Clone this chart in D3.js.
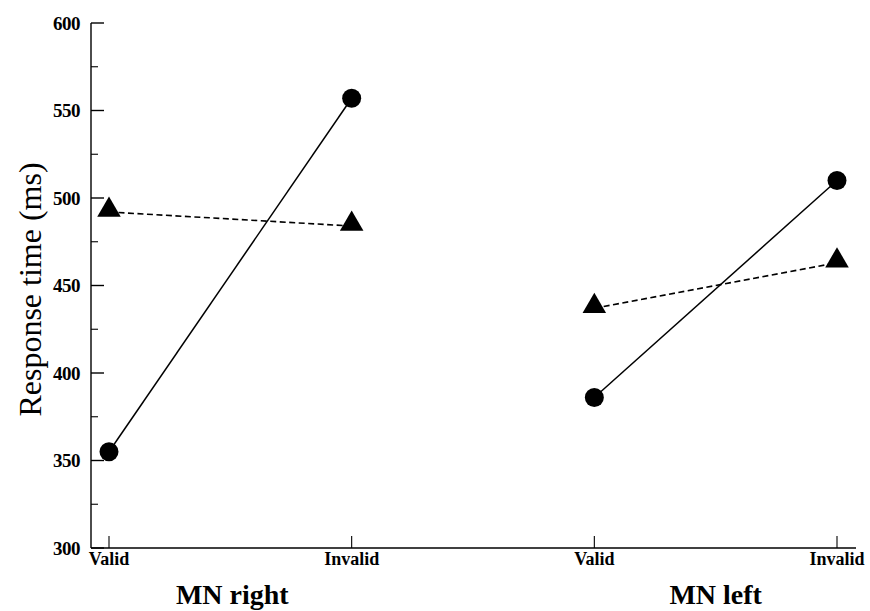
<!DOCTYPE html>
<html>
<head>
<meta charset="utf-8">
<script src="https://cdn.jsdelivr.net/npm/d3@7"></script>
<style>
  body { margin: 0; background: #fff; }
  svg { display: block; }
</style>
</head>
<body>
<div id="chart"></div>
<script>
// conditions along the x axis, two per hand group
const groups = ["MN right", "MN left"];
const cues = ["Valid", "Invalid"];
const conditions = ["right-Valid", "right-Invalid", "left-Valid", "left-Invalid"];

// response times (ms)
const circleSeries = [355, 557, 386, 510];   // solid line, filled circles
const triangleSeries = [492, 484, 437, 463]; // dashed line, filled triangles

const yTicks = [300, 350, 400, 450, 500, 550, 600];

const width = 870, height = 611;
const axisX = 91, axisY = 548;

const svg = d3.select("#chart").append("svg")
  .attr("width", width)
  .attr("height", height);

const x = d3.scalePoint().domain(conditions).range([109, 837]);
const y = d3.scaleLinear().domain([300, 600]).range([axisY, 23]);

const serif = "'Liberation Serif', 'DejaVu Serif', serif";

// y axis
svg.append("line")
  .attr("x1", axisX).attr("x2", axisX)
  .attr("y1", y(600)).attr("y2", axisY)
  .attr("stroke", "#000").attr("stroke-width", 1.4);

const minorTicks = d3.range(325, 600, 50);
svg.selectAll(".ymajor").data(yTicks).enter().append("line")
  .attr("x1", axisX).attr("x2", axisX + 13)
  .attr("y1", d => y(d)).attr("y2", d => y(d))
  .attr("stroke", "#000").attr("stroke-width", 1.4);
svg.selectAll(".yminor").data(minorTicks).enter().append("line")
  .attr("x1", axisX).attr("x2", axisX + 7)
  .attr("y1", d => y(d)).attr("y2", d => y(d))
  .attr("stroke", "#000").attr("stroke-width", 1.1);
svg.selectAll(".ylabel").data(yTicks).enter().append("text")
  .attr("x", 80).attr("y", d => y(d) + 6.5)
  .attr("text-anchor", "end")
  .style("font-family", serif).style("font-weight", "bold").style("font-size", "19px")
  .style("letter-spacing", "-0.5px")
  .text(d => d);

svg.append("text")
  .attr("transform", "translate(41," + (y(450) + 4) + ") rotate(-90)")
  .attr("text-anchor", "middle")
  .style("font-family", serif).style("font-size", "32px")
  .text("Response time (ms)");

// x axis
svg.append("line")
  .attr("x1", axisX).attr("x2", 856)
  .attr("y1", axisY).attr("y2", axisY)
  .attr("stroke", "#000").attr("stroke-width", 1.4);
svg.selectAll(".xtick").data(conditions).enter().append("line")
  .attr("x1", d => x(d)).attr("x2", d => x(d))
  .attr("y1", axisY).attr("y2", axisY - 12)
  .attr("stroke", "#000").attr("stroke-width", 1.1);
svg.selectAll(".xlabel").data(conditions).enter().append("text")
  .attr("x", d => x(d)).attr("y", 565)
  .attr("text-anchor", "middle")
  .style("font-family", serif).style("font-weight", "bold").style("font-size", "18px")
  .text(d => d.split("-")[1]);

// group labels centred under each pair of conditions
const groupX = [
  (x("right-Valid") + x("right-Invalid")) / 2 + 2,
  (x("left-Valid") + x("left-Invalid")) / 2
];
svg.selectAll(".group").data(groups).enter().append("text")
  .attr("x", (d, i) => groupX[i]).attr("y", 604)
  .attr("text-anchor", "middle")
  .style("font-family", serif).style("font-weight", "bold").style("font-size", "28px")
  .text(d => d);

// lines, one segment per group
const line = d3.line().x(d => x(d.c)).y(d => y(d.v));
function segments(values) {
  return groups.map((g, gi) => cues.map((c, ci) => ({c: conditions[gi * 2 + ci], v: values[gi * 2 + ci]})));
}

svg.selectAll(".solid").data(segments(circleSeries)).enter().append("path")
  .attr("d", line).attr("fill", "none")
  .attr("stroke", "#000").attr("stroke-width", 1.5);
svg.selectAll(".dashed").data(segments(triangleSeries)).enter().append("path")
  .attr("d", line).attr("fill", "none")
  .attr("stroke", "#000").attr("stroke-width", 1.6)
  .style("stroke-dasharray", "6,3.5");

// markers
svg.selectAll(".circ").data(circleSeries).enter().append("circle")
  .attr("cx", (d, i) => x(conditions[i])).attr("cy", d => y(d))
  .attr("r", 9.5).attr("fill", "#000");

const tri = d3.symbol().type(d3.symbolTriangle).size(240);
svg.selectAll(".tri").data(triangleSeries).enter().append("path")
  .attr("d", tri)
  .attr("transform", (d, i) => "translate(" + x(conditions[i]) + "," + (y(d) - 2) + ")")
  .attr("fill", "#000");
</script>
</body>
</html>
